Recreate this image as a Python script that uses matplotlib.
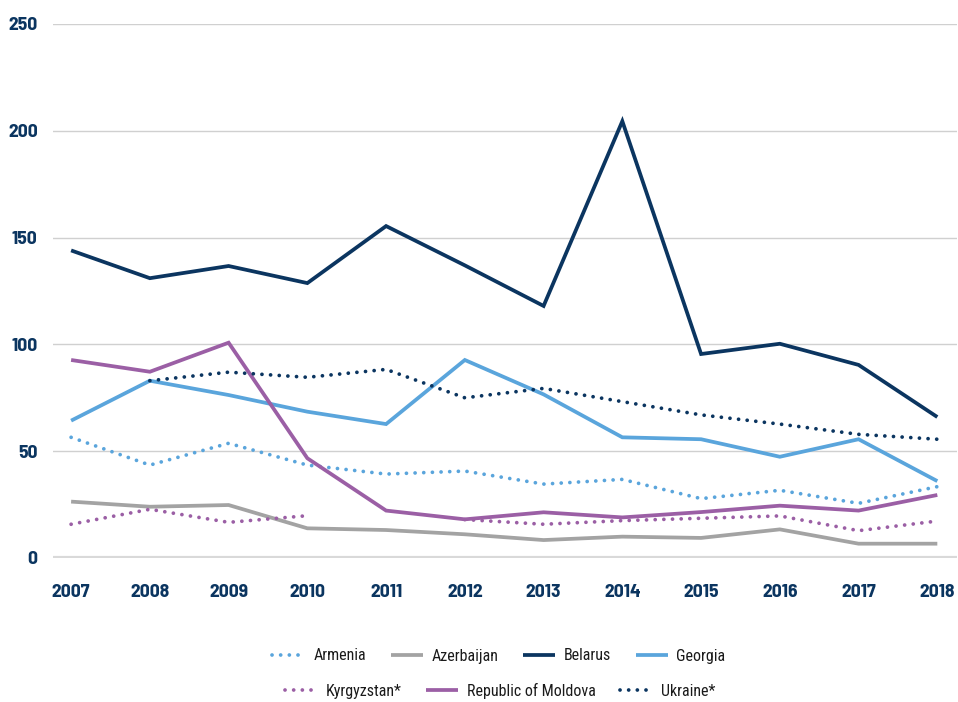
import numpy as np
import matplotlib
matplotlib.use("Agg")
import matplotlib.pyplot as plt

years = [2007, 2008, 2009, 2010, 2011, 2012, 2013, 2014, 2015, 2016, 2017, 2018]
armenia = [56.5, 43.5, 53.7, 43.5, 39.3, 40.7, 34.6, 36.8, 27.8, 31.7, 25.6, 33.4]
azerbaijan = [26.4, 24.0, 24.8, 13.9, 13.1, 11.1, 8.4, 10.0, 9.4, 13.4, 6.7, 6.7]
belarus = [144, 131, 136.7, 128.7, 155.4, 137, 118, 204.5, 95.5, 100.3, 90.4, 66]
georgia = [64.3, 83, 76.3, 68.5, 62.7, 92.7, 76.6, 56.5, 55.6, 47.4, 55.6, 36]
kyrgyzstan = [15.8, 22.8, 16.7, 19.8, np.nan, 18.0, 15.8, 17.5, 18.6, 19.7, 12.8, 17.3]
moldova = [92.7, 87.2, 100.8, 46.7, 22.2, 18.1, 21.4, 19.0, 21.5, 24.5, 22.2, 29.5]
ukraine = [np.nan, 83, 87, 84.6, 88.3, 75, 79.4, 73.2, 67, 62.7, 57.9, 55.6]

yticks = [0, 50, 100, 150, 200, 250]

NAVY = "#0b3560"
LIGHT = "#5aa5dc"
GREY = "#a3a3a3"
PURPLE = "#9b5fa5"

series = [
    ("Armenia", armenia, LIGHT, "dot"),
    ("Azerbaijan", azerbaijan, GREY, "solid"),
    ("Belarus", belarus, NAVY, "solid"),
    ("Georgia", georgia, LIGHT, "solid"),
    ("Kyrgyzstan*", kyrgyzstan, PURPLE, "dot"),
    ("Republic of Moldova", moldova, PURPLE, "solid"),
    ("Ukraine*", ukraine, NAVY, "dot"),
]

fig = plt.figure(figsize=(9.58, 7.02), dpi=100)
ax = fig.add_axes([53/958, 1-558/702, 904/958, (558-24)/702])

tick_font = ["Barlow Semi Condensed", "DejaVu Sans"]
leg_font = ["Roboto Condensed", "DejaVu Sans"]

for y in yticks[1:]:
    ax.axhline(y, color="#d0d0d0", lw=1.0, zorder=0)
ax.axhline(0, color="#d9d9d9", lw=3.0, zorder=0)

handles = []
for name, vals, col, style in series:
    if style == "dot":
        ln, = ax.plot(years, vals, color=col, lw=2.7, linestyle=(0, (0.01, 2.3)),
                      dash_capstyle="round", zorder=3, clip_on=False)
    else:
        ln, = ax.plot(years, vals, color=col, lw=2.7, solid_joinstyle="miter",
                      solid_capstyle="butt", zorder=3, clip_on=False)
    ln.set_label(name)
    handles.append(ln)

ax.set_xlim(2006.77, 2018.25)
ax.set_ylim(0, 250)
ax.set_xticks(years)
ax.set_xticklabels([str(y) for y in years])
ax.set_yticks(yticks)
ax.set_yticklabels([str(y) for y in yticks])
for s in ax.spines.values():
    s.set_visible(False)
ax.tick_params(axis="both", length=0, labelcolor=NAVY, labelsize=14)
ax.tick_params(axis="y", pad=11)
ax.tick_params(axis="x", pad=19)
for lab in ax.get_xticklabels() + ax.get_yticklabels():
    lab.set_fontweight("bold")
    lab.set_fontfamily(tick_font)

leg_kw = dict(frameon=False, handlelength=2.0, handletextpad=0.55, columnspacing=1.55,
              prop={"family": leg_font, "size": 11.5}, loc="center",
              bbox_transform=fig.transFigure)
leg1 = fig.legend(handles=handles[:4], ncol=4, bbox_to_anchor=(499/958, 1-656/702), **leg_kw)
leg2 = fig.legend(handles=handles[4:], ncol=3, bbox_to_anchor=(500/958, 1-691/702), **leg_kw)
for leg in (leg1, leg2):
    for t in leg.get_texts():
        t.set_color("#1a1a1a")

fig.savefig("out.png", dpi=100)
